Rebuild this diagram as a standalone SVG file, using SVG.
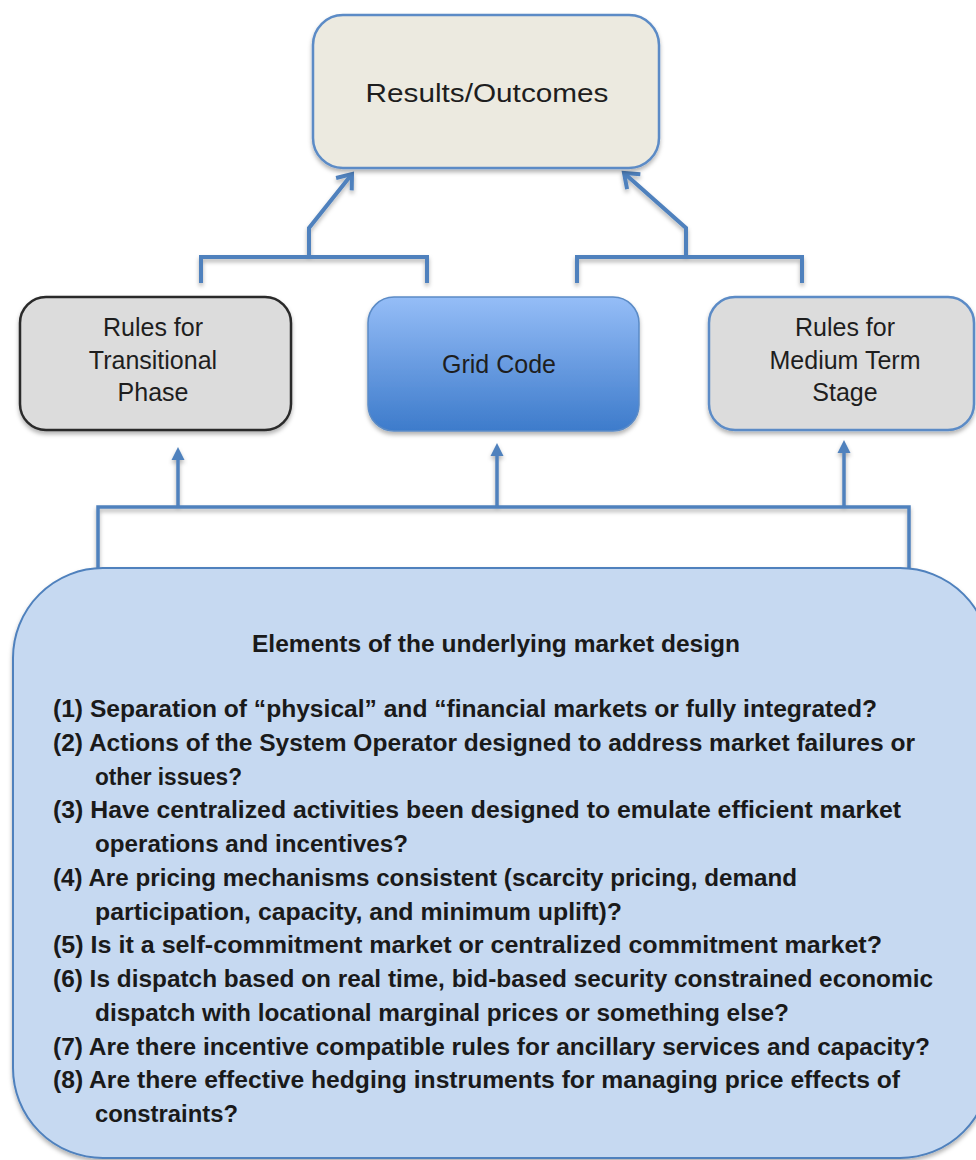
<svg xmlns="http://www.w3.org/2000/svg" width="976" height="1160" viewBox="0 0 976 1160">
<style>
.lbl{font-family:"Liberation Sans",Arial,sans-serif;font-size:25px;fill:#1e1e1e;text-anchor:middle}
.bt{font-family:"Liberation Sans",Arial,sans-serif;font-size:23px;font-weight:bold;fill:#1a1a1a}
.conn{fill:none;stroke:#4F81BD;stroke-width:4;stroke-linejoin:miter}
.thin{fill:none;stroke:#4F81BD;stroke-width:3.5}
</style>
<defs>
<linearGradient id="gc" x1="0" y1="0" x2="0" y2="1">
<stop offset="0" stop-color="#95BDF7"/>
<stop offset="1" stop-color="#3D7BCB"/>
</linearGradient>
<filter id="sh" x="-10%" y="-10%" width="120%" height="130%">
<feDropShadow dx="0" dy="3" stdDeviation="2" flood-color="#000" flood-opacity="0.3"/>
</filter>
<marker id="chev" markerUnits="userSpaceOnUse" markerWidth="30" markerHeight="30" viewBox="-20 -15 30 30" refX="0" refY="0" orient="auto">
<path d="M-13,-10 L0,0 L-13,10" fill="none" stroke="#4F81BD" stroke-width="4"/>
</marker>
<marker id="tri" markerUnits="userSpaceOnUse" markerWidth="30" markerHeight="30" viewBox="-15 -15 30 30" refX="0" refY="0" orient="auto">
<path d="M-2,-6.5 L11,0 L-2,6.5 z" fill="#4F81BD"/>
</marker>
</defs>

<g id="connectors" filter="url(#sh)">
<path class="conn" d="M201,283 V257 H427 V283"/>
<path class="conn" d="M309,257 V228 L352,174" marker-end="url(#chev)"/>
<path class="conn" d="M577,283 V257 H802 V283"/>
<path class="conn" d="M686,257 V228 L624,173" marker-end="url(#chev)"/>
<path class="thin" d="M98,568 V507 H909 V568"/>
<path class="thin" d="M178,507 V458" marker-end="url(#tri)"/>
<path class="thin" d="M497,507 V454" marker-end="url(#tri)"/>
<path class="thin" d="M844,507 V451" marker-end="url(#tri)"/>
</g>

<g id="results">
<rect x="313" y="15" width="346" height="153" rx="30" fill="#ECEAE0" stroke="#5B8BC6" stroke-width="2.5" filter="url(#sh)"/>
<text class="lbl" x="487" y="102" textLength="243" lengthAdjust="spacingAndGlyphs">Results/Outcomes</text>
</g>

<g id="transitional">
<rect x="20" y="297" width="271" height="133" rx="26" fill="#DCDCDC" stroke="#2a2a2a" stroke-width="2.5" filter="url(#sh)"/>
<text class="lbl" x="153" y="336">Rules for</text>
<text class="lbl" x="153" y="369">Transitional</text>
<text class="lbl" x="153" y="401">Phase</text>
</g>

<g id="gridcode">
<rect x="368" y="297" width="271" height="134" rx="26" fill="url(#gc)" stroke="#5B8BC6" stroke-width="1.5" filter="url(#sh)"/>
<text class="lbl" x="499" y="373">Grid Code</text>
</g>

<g id="medium">
<rect x="709" y="297" width="265" height="133" rx="26" fill="#DCDCDC" stroke="#5B8BC6" stroke-width="2.5" filter="url(#sh)"/>
<text class="lbl" x="845" y="336">Rules for</text>
<text class="lbl" x="845" y="369">Medium Term</text>
<text class="lbl" x="845" y="401">Stage</text>
</g>

<g id="market-design">
<rect x="13" y="568" width="977" height="590" rx="90" fill="#C6D9F1" stroke="#4F81BD" stroke-width="2" filter="url(#sh)"/>
<text class="bt" x="496" y="652" text-anchor="middle" textLength="488" lengthAdjust="spacingAndGlyphs">Elements of the underlying market design</text>
<text class="bt" x="53" y="717" textLength="824" lengthAdjust="spacingAndGlyphs">(1) Separation of “physical” and “financial markets or fully integrated?</text>
<text class="bt" x="53" y="751" textLength="862" lengthAdjust="spacingAndGlyphs">(2) Actions of the System Operator designed to address market failures or</text>
<text class="bt" x="95" y="784.5" textLength="147" lengthAdjust="spacingAndGlyphs">other issues?</text>
<text class="bt" x="53" y="818" textLength="848" lengthAdjust="spacingAndGlyphs">(3) Have centralized activities been designed to emulate efficient market</text>
<text class="bt" x="95" y="852" textLength="313" lengthAdjust="spacingAndGlyphs">operations and incentives?</text>
<text class="bt" x="53" y="886" textLength="744" lengthAdjust="spacingAndGlyphs">(4) Are pricing mechanisms consistent (scarcity pricing, demand</text>
<text class="bt" x="95" y="919.5" textLength="527" lengthAdjust="spacingAndGlyphs">participation, capacity, and minimum uplift)?</text>
<text class="bt" x="53" y="953" textLength="829" lengthAdjust="spacingAndGlyphs">(5) Is it a self-commitment market or centralized commitment market?</text>
<text class="bt" x="53" y="987" textLength="880" lengthAdjust="spacingAndGlyphs">(6) Is dispatch based on real time, bid-based security constrained economic</text>
<text class="bt" x="95" y="1021" textLength="694" lengthAdjust="spacingAndGlyphs">dispatch with locational marginal prices or something else?</text>
<text class="bt" x="53" y="1054.5" textLength="877" lengthAdjust="spacingAndGlyphs">(7) Are there incentive compatible rules for ancillary services and capacity?</text>
<text class="bt" x="53" y="1088" textLength="847" lengthAdjust="spacingAndGlyphs">(8) Are there effective hedging instruments for managing price effects of</text>
<text class="bt" x="95" y="1122" textLength="143" lengthAdjust="spacingAndGlyphs">constraints?</text>
</g>
</svg>
